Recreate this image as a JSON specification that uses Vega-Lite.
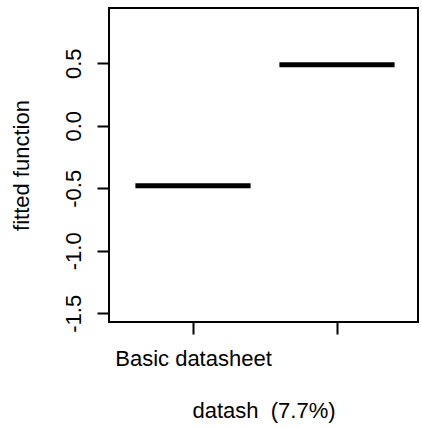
{
  "$schema": "https://vega.github.io/schema/vega-lite/v6.json",
  "width": 309,
  "height": 314,
  "autosize": {"type": "none"},
  "padding": {"left": 109, "top": 8, "right": 4, "bottom": 107},
  "background": "white",
  "config": {
    "view": {"stroke": "black", "strokeWidth": 2},
    "font": "Liberation Sans",
    "axis": {
      "labelFont": "Liberation Sans",
      "titleFont": "Liberation Sans",
      "labelFontSize": 22,
      "titleFontSize": 22,
      "labelColor": "black",
      "titleColor": "black",
      "titleFontWeight": "normal",
      "tickColor": "black",
      "tickWidth": 2,
      "tickSize": 12,
      "domain": false,
      "grid": false
    }
  },
  "data": {
    "values": [
      {"level": "Basic datasheet", "pos": 1, "x": 0.6, "x2": 1.4, "y": -0.48},
      {"level": "Other", "pos": 2, "x": 1.6, "x2": 2.4, "y": 0.488}
    ]
  },
  "mark": {"type": "rule", "strokeWidth": 5, "color": "black", "strokeCap": "butt"},
  "encoding": {
    "x": {
      "field": "x",
      "type": "quantitative",
      "scale": {"domain": [0.4167, 2.5625], "nice": false, "zero": false},
      "axis": {
        "values": [1, 2],
        "labelExpr": "datum.value == 1 ? 'Basic datasheet' : ''",
        "labelPadding": 14,
        "labelBaseline": "top",
        "title": "datash \u00a0(7.7%)",
        "titlePadding": 31
      }
    },
    "x2": {"field": "x2"},
    "y": {
      "field": "y",
      "type": "quantitative",
      "scale": {"domain": [-1.57, 0.942], "nice": false, "zero": false},
      "axis": {
        "values": [-1.5, -1.0, -0.5, 0.0, 0.5],
        "labelExpr": "replace(format(datum.value, '.1f'), '\u2212', '-')",
        "labelAngle": -90,
        "labelAlign": "center",
        "labelBaseline": "alphabetic",
        "labelPadding": 17,
        "title": "fitted function",
        "titlePadding": 29
      }
    }
  }
}
